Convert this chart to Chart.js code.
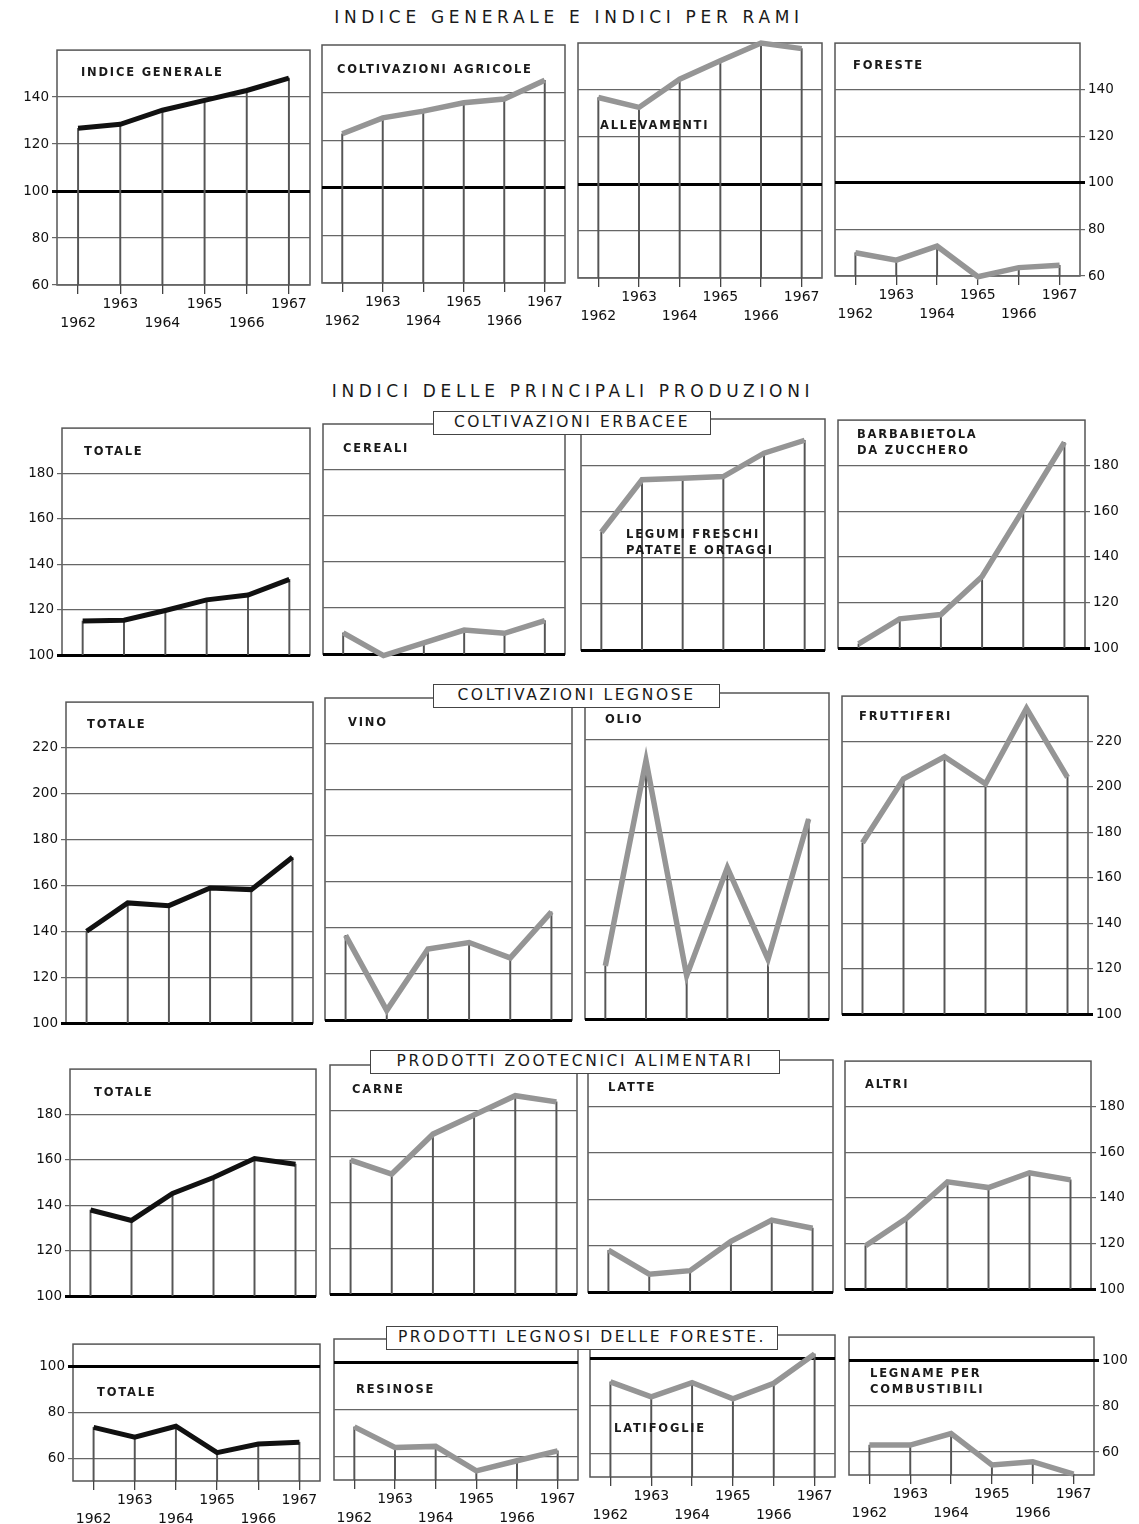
<!DOCTYPE html>
<html>
<head>
<meta charset="utf-8">
<script src="https://cdn.jsdelivr.net/npm/chart.js@4.4.1/dist/chart.umd.min.js"></script>
<style>
body{margin:0;background:#fff;width:1139px;height:1524px;position:relative;overflow:hidden;font-family:"DejaVu Sans",sans-serif;color:#1a1a1a}
.panel{position:absolute}
.lbl{position:absolute;font-weight:bold;font-size:11.5px;letter-spacing:1.8px;line-height:16px;white-space:nowrap;z-index:1}
.head{position:absolute;font-size:17px;letter-spacing:4.7px;white-space:nowrap;transform:translateX(-50%)}
.box{position:absolute;background:#fff;border:1.5px solid #444;font-size:15.5px;letter-spacing:2.6px;text-align:center;line-height:21px;z-index:2;box-sizing:border-box;white-space:nowrap}
</style>
</head>
<body>
<div class="head" style="left:569px;top:7px">INDICE GENERALE E INDICI PER RAMI</div>
<div class="head" style="left:573px;top:381px">INDICI DELLE PRINCIPALI PRODUZIONI</div>
<div class="box" style="left:433px;top:411px;width:278px;height:24px">COLTIVAZIONI ERBACEE</div>
<div class="box" style="left:433px;top:684px;width:287px;height:24px">COLTIVAZIONI LEGNOSE</div>
<div class="box" style="left:370px;top:1050px;width:410px;height:24px">PRODOTTI ZOOTECNICI ALIMENTARI</div>
<div class="box" style="left:386px;top:1326px;width:392px;height:24px">PRODOTTI LEGNOSI DELLE FORESTE.</div>

<script>
const years = ["1962", "1963", "1964", "1965", "1966", "1967"];

// indice generale e indici per rami
const indiceGenerale = [126.7, 128.4, 134.4, 138.6, 142.8, 148.1];
const coltivazioniAgricole = [122.7, 129.4, 132.2, 135.7, 137.3, 145.2];
const allevamenti = [136.8, 132.6, 144.6, 152.4, 160, 157.6];
const foreste = [70, 66.8, 72.8, 59.7, 63.6, 64.6];

// coltivazioni erbacee
const erbaceeTotale = [115, 115.3, 119.6, 124.3, 126.4, 133.3];
const cereali = [109.2, 99.3, 104.8, 110.4, 109, 114.5];
const legumi = [151, 173.7, 174.4, 175.1, 185.2, 190.8];
const barbabietola = [101.8, 112.8, 114.7, 131.4, 160.7, 190.3];

// coltivazioni legnose
const legnoseTotale = [140, 152.4, 151.2, 158.9, 158.2, 172.3];
const vino = [136.8, 104.2, 130.9, 133.7, 127, 147];
const olio = [122.8, 211, 118.6, 165, 125.7, 185.9];
const fruttiferi = [175.4, 203.6, 213.3, 201.4, 234.6, 204.2];

// prodotti zootecnici alimentari
const zootecniciTotale = [137.9, 133.3, 145.2, 152.2, 160.6, 158.1];
const carne = [158.5, 152.4, 169.8, 178.2, 186.6, 183.9];
const latte = [118, 107.7, 109.2, 121.8, 131, 127.5];
const altri = [119, 131, 147, 144.5, 151, 147.9];

// prodotti legnosi delle foreste
const legnosiTotale = [73.5, 69.2, 74, 62.4, 66.2, 67];
const resinose = [72.6, 63.8, 64.3, 53.9, 58.2, 62.4];
const latifoglie = [90.2, 83.9, 89.9, 83, 89.6, 102];
const legname = [63, 63, 68, 54.4, 55.8, 50.4];

// tick values of each row
const ticksRami = [60, 80, 100, 120, 140];
const ticksErbacee = [100, 120, 140, 160, 180];
const ticksLegnose = [100, 120, 140, 160, 180, 200, 220];
const ticksZootecnici = [100, 120, 140, 160, 180];
const ticksForeste = [60, 80, 100];

const rowRami = { min: 60, max: 160, ticks: ticksRami, years: true };
const rowErbacee = { min: 100, max: 200, ticks: ticksErbacee, years: false };
const rowLegnose = { min: 100, max: 240, ticks: ticksLegnose, years: false };
const rowZoo = { min: 100, max: 200, ticks: ticksZootecnici, years: false };
const rowForeste = { min: 50, max: 110, ticks: ticksForeste, years: true };

// box: left, right, top, bottom (px)
const panels = [
  { values: indiceGenerale, dark: true, row: rowRami, box: [57, 310, 47, 285], axis: "left" },
  { values: coltivazioniAgricole, row: rowRami, box: [322, 565, 45, 283] },
  { values: allevamenti, row: rowRami, box: [578, 822, 43, 278] },
  { values: foreste, row: rowRami, box: [835, 1080, 40, 276], axis: "right" },

  { values: erbaceeTotale, dark: true, row: rowErbacee, box: [62, 310, 425, 663], axis: "left" },
  { values: cereali, row: rowErbacee, box: [323, 565, 424, 662] },
  { values: legumi, row: rowErbacee, box: [581, 825, 419, 658] },
  { values: barbabietola, row: rowErbacee, box: [838, 1085, 417, 656], axis: "right" },

  { values: legnoseTotale, dark: true, row: rowLegnose, box: [66, 313, 699, 1031], axis: "left" },
  { values: vino, row: rowLegnose, box: [325, 572, 698, 1028] },
  { values: olio, row: rowLegnose, box: [585, 829, 693, 1027] },
  { values: fruttiferi, row: rowLegnose, box: [842, 1088, 693, 1022], axis: "right" },

  { values: zootecniciTotale, dark: true, row: rowZoo, box: [70, 316, 1066, 1304], axis: "left" },
  { values: carne, row: rowZoo, box: [330, 577, 1065, 1302] },
  { values: latte, row: rowZoo, box: [588, 833, 1060, 1300] },
  { values: altri, row: rowZoo, box: [845, 1091, 1058, 1297], axis: "right" },

  { values: legnosiTotale, dark: true, row: rowForeste, box: [73, 320, 1341, 1481], axis: "left" },
  { values: resinose, row: rowForeste, box: [334, 578, 1339, 1480] },
  { values: latifoglie, row: rowForeste, box: [590, 835, 1335, 1477] },
  { values: legname, row: rowForeste, box: [849, 1094, 1334, 1475], axis: "right" },
];

const labels = [
  ["INDICE GENERALE", 81, 64], ["COLTIVAZIONI AGRICOLE", 337, 61],
  ["ALLEVAMENTI", 600, 117], ["FORESTE", 853, 57],
  ["TOTALE", 84, 443], ["CEREALI", 343, 440],
  ["LEGUMI FRESCHI<br>PATATE E ORTAGGI", 626, 526], ["BARBABIETOLA<br>DA ZUCCHERO", 857, 426],
  ["TOTALE", 87, 716], ["VINO", 348, 714], ["OLIO", 605, 711], ["FRUTTIFERI", 859, 708],
  ["TOTALE", 94, 1084], ["CARNE", 352, 1081], ["LATTE", 608, 1079], ["ALTRI", 865, 1076],
  ["TOTALE", 97, 1384], ["RESINOSE", 356, 1381], ["LATIFOGLIE", 614, 1420],
  ["LEGNAME PER<br>COMBUSTIBILI", 870, 1365],
];

labels.forEach(([txt, x, y]) => {
  const d = document.createElement("div");
  d.className = "lbl";
  d.style.left = x + "px";
  d.style.top = y + "px";
  d.innerHTML = txt;
  document.body.appendChild(d);
});

Chart.defaults.font.family = '"DejaVu Sans", sans-serif';
Chart.defaults.color = "#111";

const frame = {
  id: "frame",
  beforeDraw(chart) {
    const { ctx, chartArea: a } = chart;
    ctx.save();
    ctx.strokeStyle = "#555";
    ctx.lineWidth = 1.5;
    ctx.strokeRect(a.left, a.top, a.right - a.left, a.bottom - a.top);
    ctx.restore();
  },
};

const padL = 44, padR = 44, padT = 8;

panels.forEach((p) => {
  const [left, right, top, bottom] = p.box;
  const padB = p.row.years ? 46 : 8;
  const w = right - left + padL + padR;
  const h = bottom - top + padT + padB;
  const div = document.createElement("div");
  div.className = "panel";
  div.style.left = left - padL + "px";
  div.style.top = top - padT + "px";
  const cv = document.createElement("canvas");
  cv.width = w;
  cv.height = h;
  div.appendChild(cv);
  document.body.appendChild(div);

  const side = p.axis === "right" ? "right" : "left";
  const showY = !!p.axis;

  new Chart(cv, {
    type: "bar",
    data: {
      labels: years,
      datasets: [
        {
          type: "line",
          data: p.values,
          borderColor: p.dark ? "#111" : "#959595",
          borderWidth: p.dark ? 5 : 5.5,
          pointRadius: 0,
          tension: 0,
          clip: 8,
          order: 0,
        },
        {
          type: "bar",
          data: p.values,
          backgroundColor: "#555",
          barThickness: 1.3,
          order: 1,
        },
      ],
    },
    options: {
      responsive: false,
      animation: false,
      events: [],
      layout: {
        autoPadding: false,
        padding: {
          left: side === "right" ? padL : 0,
          right: side === "right" ? 0 : padR,
          top: padT,
          bottom: p.row.years ? 0 : padB,
        },
      },
      plugins: { legend: { display: false }, tooltip: { enabled: false } },
      scales: {
        x: {
          display: p.row.years,
          offset: true,
          afterFit: (s) => { s.height = padB; },
          border: { display: false },
          grid: {
            offset: false,
            drawOnChartArea: false,
            drawTicks: true,
            tickLength: 9,
            color: "#444",
            lineWidth: 1.3,
          },
          ticks: {
            autoSkip: false,
            maxRotation: 0,
            padding: 1,
            font: { size: 14, lineHeight: 1.35 },
            callback: (v, i) => (i % 2 === 0 ? ["", years[i]] : [years[i]]),
          },
        },
        y: {
          position: side,
          min: p.row.min,
          max: p.row.max,
          afterBuildTicks: (s) => { s.ticks = p.row.ticks.map((v) => ({ value: v })); },
          afterFit: (s) => { s.width = side === "right" ? padR : padL; },
          border: { display: false },
          grid: {
            drawTicks: showY,
            tickLength: 5,
            color: (c) => (c.tick && c.tick.value === 100 ? "#000" : "#666"),
            lineWidth: (c) => (c.tick && c.tick.value === 100 ? 3 : 1.2),
          },
          ticks: {
            display: showY,
            padding: 3,
            font: { size: 13.5 },
          },
        },
      },
    },
    plugins: [frame],
  });
});
</script>
</body>
</html>
